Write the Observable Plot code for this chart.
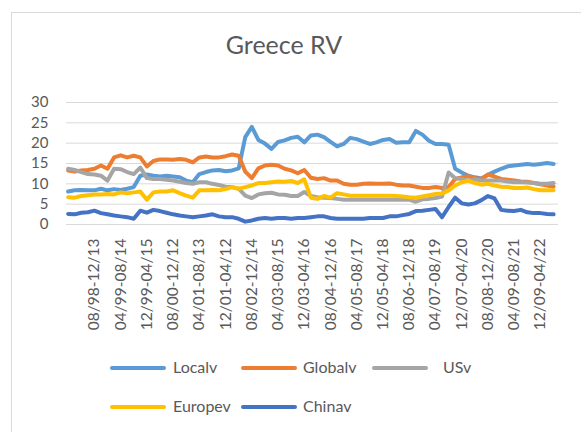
<!DOCTYPE html>
<html><head><meta charset="utf-8">
<script src="https://cdn.jsdelivr.net/npm/d3@7"></script>
<script src="https://cdn.jsdelivr.net/npm/@observablehq/plot@0.6"></script>
<style>
body{margin:0;background:#fff;font-family:Lato,"Open Sans",sans-serif;}
#wrap{position:relative;width:581px;height:432px;overflow:hidden;background:#fff;}
#frame{position:absolute;left:11px;top:12px;width:620px;height:460px;border:1px solid #d9d9d9;}
#title{position:absolute;left:0;width:568px;top:29px;text-align:center;font-size:25px;line-height:30px;color:#595959;}
#chart{position:absolute;left:0;top:92px;}
.leg{position:absolute;font-size:16px;line-height:20px;color:#595959;white-space:nowrap;}
.sw{position:absolute;height:4px;border-radius:2px;width:56px;}
</style></head>
<body>
<div id="wrap">
  <div id="frame"></div>
  <div id="title">Greece RV</div>
  <div id="chart"></div>
  <div id="legend"></div>
</div>
<script>
// Series names and colours
const names = ["Localv","Globalv","USv","Europev","Chinav"];
const colors = ["#5B9BD5","#ED7D31","#A5A5A5","#FFC000","#4472C4"];

// Values read every second month (month index 0,2,4,...,148)
const localv = [8.1,8.4,8.5,8.4,8.4,8.8,8.4,8.7,8.5,8.8,
 9.2,12.0,12.3,12.0,11.8,12.0,11.8,11.6,10.8,10.4,
 12.4,12.9,13.3,13.4,13.1,13.3,13.8,21.5,24.0,20.8,
 19.9,18.6,20.3,20.7,21.3,21.6,20.2,21.9,22.1,21.5,
 20.3,19.2,19.8,21.3,21.0,20.4,19.8,20.2,20.8,21.0,
 20.1,20.2,20.2,23.0,22.1,20.6,19.8,19.8,19.6,13.7,
 12.8,12.0,11.6,11.3,12.2,13.0,13.7,14.3,14.5,14.7,
 14.9,14.7,14.9,15.1,14.9];
const globalv = [13.3,13.0,13.3,13.4,13.7,14.5,13.7,16.5,17.0,16.5,
 16.9,16.5,14.3,15.6,16.0,16.0,15.9,16.1,15.9,15.3,
 16.5,16.7,16.5,16.5,16.8,17.2,16.9,13.0,11.4,13.8,
 14.5,14.7,14.5,13.7,13.3,12.6,13.4,11.5,11.2,11.4,
 10.8,10.8,10.0,9.8,9.8,10.0,10.1,10.0,10.0,10.1,
 9.8,9.6,9.6,9.3,9.0,9.0,9.2,9.0,9.2,11.2,
 11.6,11.9,11.4,11.2,12.3,11.8,11.2,11.0,10.8,10.6,
 10.5,10.2,9.9,9.6,9.3];
const usv = [13.7,13.4,12.9,12.4,12.3,12.0,10.8,13.7,13.6,12.9,
 12.4,14.0,11.4,11.2,11.2,11.0,10.8,10.5,10.2,10.0,
 10.4,10.4,10.0,9.7,9.3,9.2,8.8,7.1,6.5,7.4,
 7.7,7.8,7.4,7.3,7.0,7.0,8.0,7.0,6.7,6.6,
 6.5,6.3,6.1,6.1,6.1,6.1,6.1,6.1,6.1,6.1,
 6.1,6.1,6.1,5.6,6.2,6.3,6.5,6.9,12.8,11.4,
 11.2,10.8,11.1,10.8,10.8,10.8,10.8,10.6,10.4,10.4,
 10.3,10.2,10.0,10.0,10.2];
const europev = [6.7,6.6,7.0,7.2,7.4,7.4,7.5,7.4,7.9,7.7,
 7.9,8.1,6.1,7.9,8.1,8.1,8.4,7.7,7.1,6.6,
 8.4,8.4,8.5,8.4,8.7,9.2,8.8,9.2,9.6,10.2,
 10.2,10.4,10.6,10.5,10.7,10.2,11.1,6.6,6.3,7.0,
 6.6,7.7,7.4,7.1,7.1,7.1,7.1,7.1,7.1,7.1,
 7.0,6.9,6.7,6.6,6.9,7.2,7.5,7.6,8.4,9.6,
 10.4,10.8,10.2,9.8,10.0,9.6,9.3,9.2,9.0,9.0,
 9.1,8.7,8.4,8.4,8.4];
const chinav = [2.6,2.5,2.9,3.0,3.4,2.8,2.5,2.2,2.0,1.8,
 1.4,3.4,2.9,3.6,3.3,2.9,2.5,2.2,2.0,1.8,
 2.0,2.2,2.5,2.0,1.8,1.8,1.4,0.7,1.0,1.4,
 1.6,1.4,1.6,1.6,1.4,1.6,1.6,1.8,2.0,2.0,
 1.6,1.4,1.4,1.4,1.4,1.4,1.6,1.6,1.6,2.0,
 2.0,2.3,2.6,3.3,3.4,3.6,3.8,1.8,4.3,6.6,
 5.2,4.9,5.2,6.0,7.0,6.4,3.6,3.4,3.3,3.6,
 3.0,2.8,2.8,2.6,2.5];

// Category tick labels (every 8th month, starting at month index 8)
const tickLabels = ["08/98-12/13","04/99-08/14","12/99-04/15","08/00-12/12","04/01-08/13","12/01-04/12",
 "08/02-12/14","04/03-08/15","12/03-04/16","08/04-12/16","04/05-08/17","12/05-04/18",
 "08/06-12/18","04/07-08/19","12/07-04/20","08/08-12/20","04/09-08/21","12/09-04/22"];
const tickMonths = [8,16,24,32,40,48,56,64,72,80,88,96,104,112,120,128,136,144];
const yTicks = [0,5,10,15,20,25,30];

const seriesVals = [localv, globalv, usv, europev, chinav];
const rows = [];
names.forEach((n, s) => seriesVals[s].forEach((v, k) => rows.push({name: n, m: k * 2, v})));

const chart = Plot.plot({
  width: 581, height: 250,
  marginLeft: 66, marginRight: 23, marginTop: 10, marginBottom: 118,
  style: {color: "#595959", fontFamily: "Lato, 'Open Sans', sans-serif", background: "transparent"},
  x: {domain: [-0.5, 149.5], axis: null},
  y: {domain: [0, 30], axis: null},
  color: {domain: names, range: colors},
  marks: [
    Plot.gridY(yTicks, {stroke: "#d9d9d9", strokeOpacity: 1, strokeWidth: 1}),
    Plot.axisY(yTicks, {tickSize: 0, tickPadding: 18, fontSize: 15, fill: "#595959", label: null}),
    Plot.axisX(tickMonths, {tickSize: 0, tickPadding: 14, tickRotate: -90, fontSize: 15.5, fill: "#595959", label: null,
      tickFormat: d => tickLabels[tickMonths.indexOf(d)]}),
    Plot.line(rows, {x: "m", y: "v", z: "name", stroke: "name", strokeWidth: 4,
      strokeLinejoin: "round", strokeLinecap: "round"})
  ]
});
document.getElementById("chart").appendChild(chart);

// Legend
const legPos = [[110, 368], [241, 368], [372, 368], [110, 407], [241, 407]];
const textOff = [63, 62, 71, 63, 62];
const leg = document.getElementById("legend");
names.forEach((n, i) => {
  const [x, y] = legPos[i];
  const sw = document.createElement("div");
  sw.className = "sw";
  sw.style.left = x + "px"; sw.style.top = (y - 2) + "px"; sw.style.background = colors[i];
  leg.appendChild(sw);
  const t = document.createElement("div");
  t.className = "leg";
  t.textContent = n;
  t.style.left = (x + textOff[i]) + "px"; t.style.top = (y - 11) + "px";
  leg.appendChild(t);
});
</script>
</body></html>
